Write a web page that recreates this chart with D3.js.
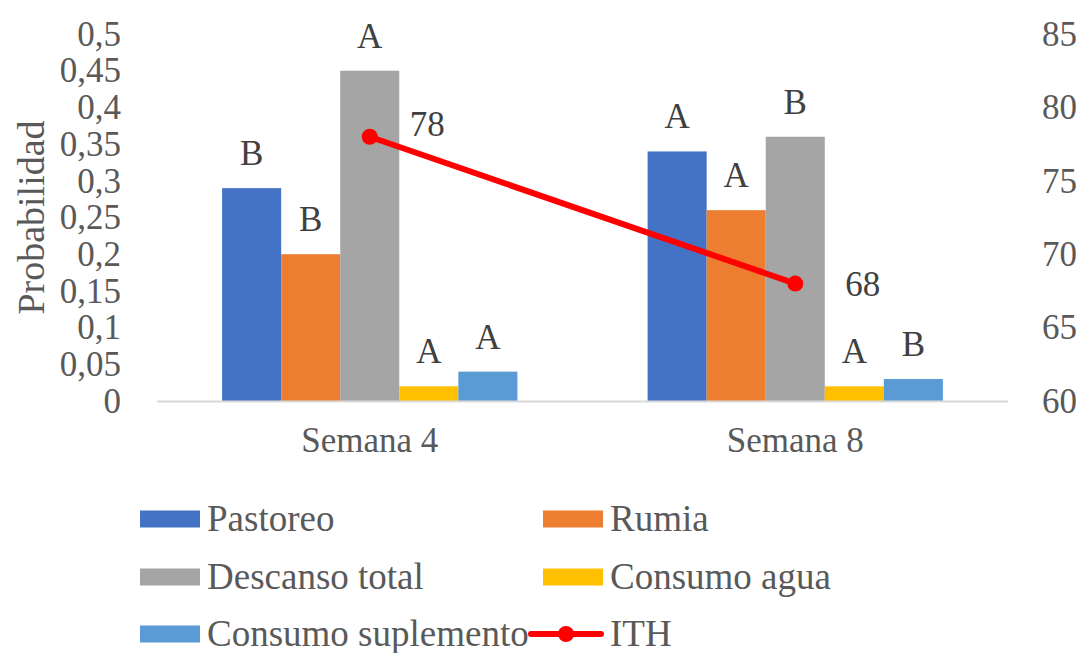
<!DOCTYPE html>
<html>
<head>
<meta charset="utf-8">
<script src="https://cdn.jsdelivr.net/npm/d3@7"></script>
<style>
  html, body { margin: 0; padding: 0; background: #fff; }
  svg text { font-family: "Liberation Serif", "Times New Roman", Times, "DejaVu Serif", serif; }
</style>
</head>
<body>
<svg id="chart" width="1083" height="653"></svg>
<script>
// Weeks on the x axis
const weeks = ["Semana 4", "Semana 8"];
// Behaviour series (probability, left axis)
const seriesNames = ["Pastoreo", "Rumia", "Descanso total", "Consumo agua", "Consumo suplemento"];
const pastoreo = [0.29, 0.34];
const rumia = [0.20, 0.26];
const descanso = [0.45, 0.36];
const consumoAgua = [0.02, 0.02];
const consumoSuplemento = [0.04, 0.03];
// Significance letters above each bar, per week
const lettersSemana4 = ["B", "B", "A", "A", "A"];
const lettersSemana8 = ["A", "A", "B", "A", "B"];
// Temperature-humidity index (right axis)
const ith = [78, 68];
// Tick values
const leftTicks = [0, 0.05, 0.1, 0.15, 0.2, 0.25, 0.3, 0.35, 0.4, 0.45, 0.5];
const rightTicks = [60, 65, 70, 75, 80, 85];

const colors = ["#4472C4", "#ED7D31", "#A5A5A5", "#FFC000", "#5B9BD5"];
const values = [pastoreo, rumia, descanso, consumoAgua, consumoSuplemento];
const letters = [lettersSemana4, lettersSemana8];

const FONT = '"Liberation Serif", "Times New Roman", Times, "DejaVu Serif", serif';
const svg = d3.select("#chart");
const plot = { left: 157, right: 1008, top: 34, bottom: 401 };
const fontSize = 35;
const legendFontSize = 37;
const textColor = "#595959";

const x0 = d3.scaleBand().domain(weeks).range([plot.left, plot.right])
  .paddingInner(0.306).paddingOuter(0.153);
const x1 = d3.scaleBand().domain(seriesNames).range([0, x0.bandwidth()]).padding(0);
const yL = d3.scaleLinear().domain([0, 0.5]).range([plot.bottom, plot.top]);
const yR = d3.scaleLinear().domain([60, 85]).range([plot.bottom, plot.top]);

const fmt = d => d3.format(",")(d).replace(".", ",");

// Left axis
const leftAxis = svg.append("g")
  .attr("transform", `translate(${plot.left - 36},0)`)
  .call(d3.axisLeft(yL).tickValues(leftTicks).tickSize(0).tickPadding(0).tickFormat(fmt));
leftAxis.attr("font-family", FONT);
leftAxis.select(".domain").remove();
leftAxis.selectAll("text").attr("font-size", fontSize).attr("fill", textColor)
  .attr("font-family", FONT).attr("dy", "0.32em");

// Right axis
const rightAxis = svg.append("g")
  .attr("transform", `translate(${plot.right + 34},0)`)
  .call(d3.axisRight(yR).tickValues(rightTicks).tickSize(0).tickPadding(0));
rightAxis.attr("font-family", FONT);
rightAxis.select(".domain").remove();
rightAxis.selectAll("text").attr("font-size", fontSize).attr("fill", textColor)
  .attr("font-family", FONT).attr("dy", "0.32em");

// Y axis title
svg.append("text")
  .attr("transform", `translate(44,${(plot.top + plot.bottom) / 2}) rotate(-90)`)
  .attr("text-anchor", "middle")
  .attr("font-family", FONT)
  .attr("font-size", 38).attr("fill", textColor)
  .text("Probabilidad");

// Bars
const groups = svg.append("g").selectAll("g")
  .data(weeks).join("g")
  .attr("transform", d => `translate(${x0(d)},0)`);

groups.selectAll("rect")
  .data((w, wi) => seriesNames.map((s, si) => ({ s, v: values[si][wi], c: colors[si] })))
  .join("rect")
  .attr("x", d => x1(d.s))
  .attr("y", d => yL(d.v))
  .attr("width", x1.bandwidth())
  .attr("height", d => plot.bottom - yL(d.v))
  .attr("fill", d => d.c);

groups.selectAll("text.letter")
  .data((w, wi) => seriesNames.map((s, si) => ({ s, v: values[si][wi], t: letters[wi][si] })))
  .join("text")
  .attr("class", "letter")
  .attr("x", d => x1(d.s) + x1.bandwidth() / 2)
  .attr("y", d => yL(d.v) - 23)
  .attr("text-anchor", "middle")
  .attr("font-family", FONT)
  .attr("font-size", fontSize).attr("fill", "#404040")
  .text(d => d.t);

// Category axis line and labels
svg.append("line")
  .attr("x1", plot.left).attr("x2", plot.right)
  .attr("y1", plot.bottom + 0.5).attr("y2", plot.bottom + 0.5)
  .attr("stroke", "#d9d9d9").attr("stroke-width", 2);

svg.append("g").selectAll("text")
  .data(weeks).join("text")
  .attr("x", d => x0(d) + x0.bandwidth() / 2)
  .attr("y", 452)
  .attr("text-anchor", "middle")
  .attr("font-family", FONT)
  .attr("font-size", fontSize).attr("fill", textColor)
  .text(d => d);

// ITH line on the secondary axis
const cx = w => x0(w) + x0.bandwidth() / 2;
const linePts = weeks.map((w, i) => ({ w, v: ith[i] }));
svg.append("path")
  .datum(linePts)
  .attr("d", d3.line().x(d => cx(d.w)).y(d => yR(d.v)))
  .attr("fill", "none").attr("stroke", "#FF0000").attr("stroke-width", 6)
  .attr("stroke-linecap", "round");
svg.append("g").selectAll("circle")
  .data(linePts).join("circle")
  .attr("cx", d => cx(d.w)).attr("cy", d => yR(d.v)).attr("r", 8)
  .attr("fill", "#FF0000");

const ithLabelOffset = [{ dx: 40, dy: -1 }, { dx: 50, dy: 12 }];
svg.append("g").selectAll("text")
  .data(linePts).join("text")
  .attr("x", (d, i) => cx(d.w) + ithLabelOffset[i].dx)
  .attr("y", (d, i) => yR(d.v) + ithLabelOffset[i].dy)
  .attr("font-family", FONT)
  .attr("font-size", fontSize).attr("fill", "#404040")
  .text(d => d.v);

// Legend
const legendItems = [
  { name: seriesNames[0], color: colors[0], type: "bar" },
  { name: seriesNames[1], color: colors[1], type: "bar" },
  { name: seriesNames[2], color: colors[2], type: "bar" },
  { name: seriesNames[3], color: colors[3], type: "bar" },
  { name: seriesNames[4], color: colors[4], type: "bar" },
  { name: "ITH", color: "#FF0000", type: "line" }
];
const legendColX = [140, 543];
const legendRowY = [519, 577, 634];
const legend = svg.append("g").selectAll("g")
  .data(legendItems).join("g")
  .attr("transform", (d, i) => `translate(${legendColX[i % 2]},${legendRowY[Math.floor(i / 2)]})`);

legend.filter(d => d.type === "bar").append("rect")
  .attr("x", 0).attr("y", -8.5).attr("width", 60).attr("height", 17)
  .attr("fill", d => d.color);
legend.filter(d => d.type === "line").append("line")
  .attr("x1", -12).attr("x2", 58).attr("y1", 0).attr("y2", 0)
  .attr("stroke", d => d.color).attr("stroke-width", 6).attr("stroke-linecap", "round");
legend.filter(d => d.type === "line").append("circle")
  .attr("cx", 23).attr("cy", 0).attr("r", 8).attr("fill", d => d.color);
legend.append("text")
  .attr("x", 67).attr("y", 12)
  .attr("font-family", FONT)
  .attr("font-size", legendFontSize).attr("fill", textColor)
  .text(d => d.name);
</script>
</body>
</html>
